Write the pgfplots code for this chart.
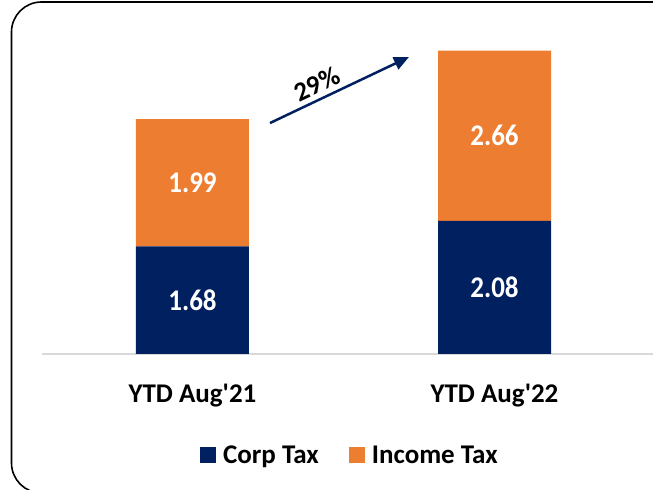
\documentclass[border=0pt]{standalone}
\usepackage{fontspec}
\setmainfont{Carlito}
\newfontfamily\valfont[FakeStretch=0.9]{Carlito}
\usepackage{pgfplots}
\pgfplotsset{compat=1.18}
\usetikzlibrary{arrows.meta}
\definecolor{corp}{HTML}{002060}
\definecolor{inc}{HTML}{ED7D31}
\begin{document}
\begin{tikzpicture}
\useasboundingbox (0,0) rectangle (653bp,490bp);
\begin{scope}
\clip (0,0) rectangle (653bp,490bp);
\draw[line width=1.6bp, rounded corners=30bp] (11.5bp,-3bp) rectangle (720bp,488bp);
\begin{axis}[
  at={(42bp,136bp)}, anchor=south west,
  scale only axis, width=611bp, height=334bp,
  xmin=-0.4983, xmax=1.5248, ymin=0, ymax=5.219,
  ybar stacked, bar width=113bp,
  axis x line=bottom, axis y line=none,
  axis line style={-},
  x axis line style={draw=black!15, line width=1.5bp, -},
  xtick={0,1}, xticklabels={YTD Aug\textquotesingle 21, YTD Aug\textquotesingle 22},
  major tick length=0pt,
  xticklabel style={font=\fontsize{27bp}{32bp}\selectfont\bfseries, anchor=base, yshift=-48bp},
  legend columns=2,
  legend image code/.code={\fill[#1] (0bp,-8bp) rectangle (16bp,8bp);},
  legend style={at={(0.508,-0.301)}, anchor=center, draw=none, fill=none, inner sep=0pt,
    column sep=0pt,
    nodes={font=\fontsize{27bp}{32bp}\selectfont\bfseries, inner xsep=7bp, inner ysep=0pt, text depth=0pt},
    /tikz/every even column/.append style={column sep=23bp}},
]
\addplot[fill=corp, draw=none] coordinates {(0,1.68) (1,2.08)};
\addlegendentry{Corp Tax}
\addplot[fill=inc, draw=none] coordinates {(0,1.99) (1,2.66)};
\addlegendentry{Income Tax}
\draw[draw=corp, line width=2.5bp, -{Triangle[length=15bp, width=13bp]}] (axis cs:0.2566,3.609) -- (axis cs:0.7169,4.641);
\node[rotate=25, font=\fontsize{27bp}{32bp}\selectfont\bfseries] at (axis cs:0.412,4.219) {29\%};
\end{axis}
\begin{axis}[
  at={(42bp,136bp)}, anchor=south west,
  scale only axis, width=611bp, height=334bp,
  xmin=-0.4983, xmax=1.5248, ymin=0, ymax=5.219,
  hide axis,
  nodes near coords, point meta=explicit symbolic,
  every node near coord/.append style={anchor=center, text=white, font=\valfont\fontsize{30bp}{34bp}\selectfont\bfseries},
]
\addplot[only marks, mark=none] table[meta=label] {
x y label
0 0.84 1.68
0 2.675 1.99
1 1.04 2.08
1 3.41 2.66
};
\end{axis}
\end{scope}
\end{tikzpicture}
\end{document}
